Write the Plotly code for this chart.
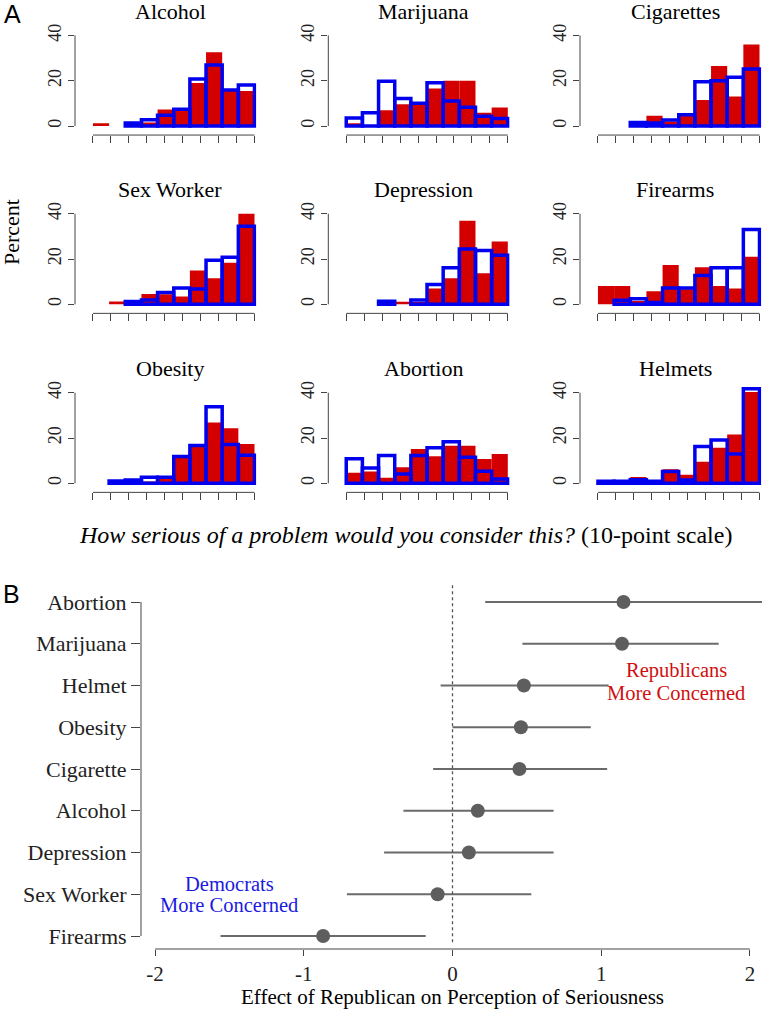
import plotly.graph_objects as go

W, H = 762, 1010
SERIF = "Liberation Serif, Times New Roman, serif"
SANS = "Liberation Sans, Arial, sans-serif"
RED = "#d40000"
BLUE = "#0000ee"
AX = "#444444"

# ---------------- Panel A data (percent per bin, 10-point scale) ----------------
breaks = [1.0, 1.9, 2.8, 3.7, 4.6, 5.5, 6.4, 7.3, 8.2, 9.1, 10.0]
titles = ["Alcohol", "Marijuana", "Cigarettes",
          "Sex Worker", "Depression", "Firearms",
          "Obesity", "Abortion", "Helmets"]

alcohol_rep = [1.2, 0, 0.4, 1.5, 7.3, 6.6, 19.0, 32.6, 15.5, 15.5]
alcohol_dem = [0, 0, 1.3, 2.8, 4.7, 7.4, 20.8, 26.9, 15.9, 18.1]
marijuana_rep = [1.2, 0, 7.0, 9.6, 9.5, 16.6, 20.0, 20.0, 5.9, 8.2]
marijuana_dem = [3.5, 5.8, 19.8, 12.1, 10.0, 19.1, 11.0, 8.3, 4.3, 3.3]
cigarettes_rep = [0, 0, 1.0, 4.5, 2.0, 4.5, 11.5, 26.5, 13.0, 36.0]
cigarettes_dem = [0, 0, 1.6, 1.3, 2.6, 5.0, 19.5, 20.0, 21.5, 25.2]
sexworker_rep = [0, 1.2, 0.8, 4.5, 4.4, 3.4, 14.9, 11.5, 18.4, 40.0]
sexworker_dem = [0, 0, 1.2, 1.9, 5.2, 7.2, 6.8, 19.4, 20.8, 34.5]
depression_rep = [0, 0, 0, 1.1, 1.0, 7.0, 11.5, 36.9, 13.7, 27.7]
depression_dem = [0, 0, 1.3, 0, 1.9, 8.7, 16.1, 24.4, 23.7, 21.7]
firearms_rep = [8.1, 8.1, 1.5, 5.8, 17.4, 6.6, 16.4, 8.1, 7.0, 21.0]
firearms_dem = [0, 1.8, 2.5, 0.8, 7.2, 7.2, 12.7, 16.1, 16.1, 33.0]
obesity_rep = [0, 0, 0, 0.8, 1.9, 11.5, 16.2, 26.8, 24.3, 17.4]
obesity_dem = [0, 1.0, 1.5, 2.7, 2.7, 11.8, 16.7, 33.8, 17.1, 12.4]
abortion_rep = [4.7, 5.2, 2.5, 7.1, 15.1, 11.9, 16.6, 16.6, 10.7, 12.9]
abortion_dem = [10.8, 6.8, 12.3, 4.1, 12.3, 15.7, 18.4, 11.5, 5.3, 1.9]
helmets_rep = [0.5, 0.5, 2.8, 0.5, 6.2, 3.8, 9.5, 15.7, 21.5, 40.3]
helmets_dem = [0.9, 0.9, 1.6, 0.9, 5.2, 1.5, 16.3, 19.1, 12.9, 41.7]

rep_series = [alcohol_rep, marijuana_rep, cigarettes_rep, sexworker_rep, depression_rep,
              firearms_rep, obesity_rep, abortion_rep, helmets_rep]
dem_series = [alcohol_dem, marijuana_dem, cigarettes_dem, sexworker_dem, depression_dem,
              firearms_dem, obesity_dem, abortion_dem, helmets_dem]
hist_yticks = [0, 20, 40]
hist_xticks = [1, 2, 3, 4, 5, 6, 7, 8, 9, 10]

# ---------------- Panel B data ----------------
issues = ["Abortion", "Marijuana", "Helmet", "Obesity", "Cigarette",
          "Alcohol", "Depression", "Sex Worker", "Firearms"]
effect = [1.15, 1.14, 0.48, 0.46, 0.45, 0.17, 0.11, -0.10, -0.87]
ci_low = [0.22, 0.47, -0.08, 0.00, -0.13, -0.33, -0.46, -0.71, -1.56]
ci_high = [2.15, 1.79, 1.05, 0.93, 1.04, 0.68, 0.68, 0.53, -0.18]
b_xticks = [-2, -1, 0, 1, 2]
b_xticktext = ["-2", "-1", "0", "1", "2"]

# ---------------- Layout geometry (pixels) ----------------
col_left = [75, 328.3, 580]
unit_x = 17.95
row_zero = [126, 304.3, 483.3]
unit_y = 2.265
XR = [0, 10.1]
YR = [-4, 45]


def xdom(p0, p1):
    return [p0 / W, min(p1 / W, 1.0)]


def ydom(ptop, pbot):
    return [1 - pbot / H, 1 - ptop / H]


fig = go.Figure()
layout = dict(width=W, height=H, margin=dict(l=0, r=0, t=0, b=0),
              paper_bgcolor="white", plot_bgcolor="white", showlegend=False,
              barmode="overlay", font=dict(family=SERIF, color="black"))
shapes = []
annotations = []

centers = [(breaks[i] + breaks[i + 1]) / 2 for i in range(len(breaks) - 1)]
widths = [breaks[i + 1] - breaks[i] for i in range(len(breaks) - 1)]

for k in range(9):
    r, c = divmod(k, 3)
    n = k + 1
    xa = "x" if n == 1 else f"x{n}"
    ya = "y" if n == 1 else f"y{n}"
    xkey = "xaxis" if n == 1 else f"xaxis{n}"
    ykey = "yaxis" if n == 1 else f"yaxis{n}"
    L = col_left[c]
    Z = row_zero[r]
    layout[xkey] = dict(domain=xdom(L, L + XR[1] * unit_x), range=XR, anchor=ya,
                        showgrid=False, zeroline=False, showline=False,
                        tickvals=hist_xticks, ticktext=[""] * len(hist_xticks),
                        ticks="outside", ticklen=7, tickcolor=AX, tickwidth=1)
    layout[ykey] = dict(domain=ydom(Z - YR[1] * unit_y, Z - YR[0] * unit_y), range=YR,
                        anchor=xa, showgrid=False, zeroline=False, showline=False,
                        tickvals=hist_yticks, ticks="outside", ticklen=6, tickcolor=AX,
                        tickwidth=1, tickangle=-90,
                        tickfont=dict(family=SERIF, size=18, color="#222"))
    rep = [v if v > 0 else None for v in rep_series[k]]
    dem = [v if v > 0 else None for v in dem_series[k]]
    fig.add_trace(go.Bar(x=centers, y=rep, width=widths, xaxis=xa, yaxis=ya,
                         marker=dict(color=RED, line=dict(width=0))))
    fig.add_trace(go.Bar(x=centers, y=dem, width=widths, xaxis=xa, yaxis=ya,
                         marker=dict(color="rgba(0,0,0,0)", line=dict(color=BLUE, width=3.5))))
    shapes.append(dict(type="line", xref=f"{xa} domain", yref=ya, x0=0, x1=0,
                       y0=hist_yticks[0], y1=hist_yticks[-1], line=dict(color=AX, width=1)))
    shapes.append(dict(type="line", xref=xa, yref=f"{ya} domain", x0=hist_xticks[0],
                       x1=hist_xticks[-1], y0=0, y1=0, line=dict(color=AX, width=1)))
    annotations.append(dict(text=titles[k], xref=xa, x=5.3, yref="paper",
                            y=1 - (Z - 114.5) / H, yanchor="middle", xanchor="center",
                            showarrow=False, font=dict(family=SERIF, size=22, color="black")))

# Panel A labels
annotations.append(dict(text="Percent", xref="paper", yref="paper", x=12 / W, y=1 - 232 / H,
                        textangle=-90, showarrow=False, xanchor="center", yanchor="middle",
                        font=dict(family=SERIF, size=22, color="black")))
annotations.append(dict(text="<i>How serious of a problem would you consider this?</i> (10-point scale)",
                        xref="paper", yref="paper", x=405 / W, y=1 - 535 / H, showarrow=False,
                        xanchor="center", yanchor="middle",
                        font=dict(family=SERIF, size=24, color="black")))
annotations.append(dict(text="A", xref="paper", yref="paper", x=12 / W, y=1 - 14 / H,
                        showarrow=False, xanchor="center", yanchor="middle",
                        font=dict(family=SANS, size=25, color="black")))
annotations.append(dict(text="B", xref="paper", yref="paper", x=11 / W, y=1 - 594 / H,
                        showarrow=False, xanchor="center", yanchor="middle",
                        font=dict(family=SANS, size=25, color="black")))

# ---------------- Panel B ----------------
nB = len(issues)
ypos = [nB - 1 - i for i in range(nB)]
b_px0 = 452.5
b_unit = 148.7
b_row0 = 936
b_rowu = 41.75
bx_range = [(141 - b_px0) / b_unit, (762 - b_px0) / b_unit]
by_range = [(b_row0 - 949) / b_rowu, (b_row0 - 580) / b_rowu]
layout["xaxis10"] = dict(domain=xdom(141, 762), range=bx_range, anchor="y10",
                         showgrid=False, zeroline=False, showline=False,
                         tickvals=b_xticks, ticktext=b_xticktext, ticks="outside",
                         ticklen=6, tickcolor=AX, tickwidth=1,
                         tickfont=dict(family=SERIF, size=21, color="#222"))
layout["yaxis10"] = dict(domain=ydom(580, 949), range=by_range, anchor="x10",
                         showgrid=False, zeroline=False, showline=False,
                         tickvals=ypos, ticktext=issues, ticks="outside", ticklen=9,
                         tickcolor=AX, tickwidth=1,
                         tickfont=dict(family=SERIF, size=22, color="#222"))
shapes.append(dict(type="line", xref="x10", yref="y10", x0=0, x1=0, y0=-0.15, y1=8.4,
                   line=dict(color="#555", width=1.3, dash="dot")))
shapes.append(dict(type="line", xref="x10 domain", yref="y10", x0=0, x1=0,
                   y0=min(ypos), y1=max(ypos), line=dict(color=AX, width=1)))
shapes.append(dict(type="line", xref="x10", yref="y10 domain", x0=b_xticks[0],
                   x1=b_xticks[-1], y0=0, y1=0, line=dict(color=AX, width=1)))

fig.add_trace(go.Scatter(
    x=effect, y=ypos, mode="markers", xaxis="x10", yaxis="y10",
    marker=dict(size=14, color="#5e5e5e"),
    error_x=dict(type="data", symmetric=False,
                 array=[h - e for h, e in zip(ci_high, effect)],
                 arrayminus=[e - l for e, l in zip(effect, ci_low)],
                 color="#6a6a6a", thickness=1.8, width=0)))


def bx(px):
    return (px - b_px0) / b_unit


def by(py):
    return (b_row0 - py) / b_rowu


for txt, px, py, col in [("Republicans", 676, 670, "#d01010"),
                          ("More Concerned", 676, 693, "#d01010"),
                          ("Democrats", 229, 883.5, "#1a1ae0"),
                          ("More Concerned", 229, 905, "#1a1ae0")]:
    annotations.append(dict(text=txt, xref="x10", yref="y10", x=bx(px), y=by(py),
                            showarrow=False, xanchor="center", yanchor="middle",
                            font=dict(family=SERIF, size=20.5, color=col)))

annotations.append(dict(text="Effect of Republican on Perception of Seriousness",
                        xref="paper", yref="paper", x=452.5 / W, y=1 - 997 / H,
                        showarrow=False, xanchor="center", yanchor="middle",
                        font=dict(family=SERIF, size=21, color="black")))

layout["shapes"] = shapes
layout["annotations"] = annotations
fig.update_layout(**layout)
fig.write_html("out.html", config={"displayModeBar": False},
               post_script="document.body.style.margin='0';document.body.style.padding='0';"
                           "document.documentElement.style.overflow='hidden';")
